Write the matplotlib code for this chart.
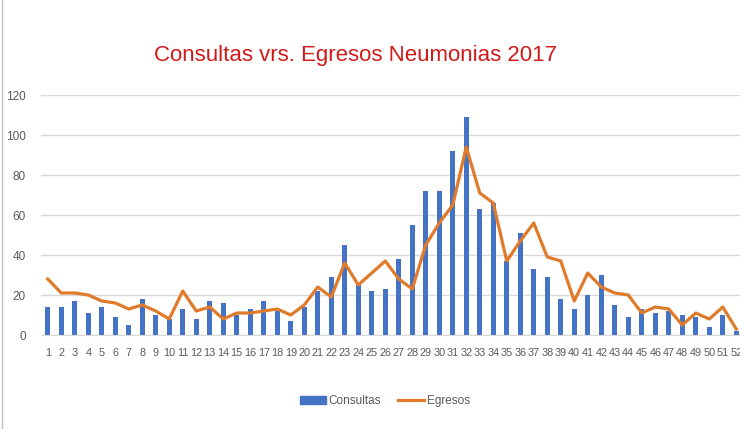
import matplotlib
matplotlib.use("Agg")
from matplotlib import pyplot as plt
from matplotlib.lines import Line2D

# semanas epidemiologicas 1..52
semanas = list(range(1, 53))
consultas = [14, 14, 17, 11, 14, 9, 5, 18, 10, 8,
             13, 8, 17, 16, 10, 13, 17, 12, 7, 14,
             22, 29, 45, 25, 22, 23, 38, 55, 72, 72,
             92, 109, 63, 66, 37, 51, 33, 29, 18, 13,
             20, 30, 15, 9, 13, 11, 12, 10, 9, 4,
             10, 2]
egresos = [28, 21, 21, 20, 17, 16, 13, 15, 12, 8,
           22, 12, 14, 8, 11, 11, 12, 13, 10, 15,
           24, 19, 36, 25, 31, 37, 28, 23, 45, 56,
           65, 94, 71, 66, 37, 47, 56, 39, 37, 17,
           31, 24, 21, 20, 11, 14, 13, 5, 11, 8,
           14, 3]
yticks = [0, 20, 40, 60, 80, 100, 120]

azul = "#4472c4"
naranja = "#e07b2c"
gris = "#595959"
fuente = "Liberation Sans"

fig = plt.figure(figsize=(7.4, 4.29), dpi=100)
ax = fig.add_axes([41 / 740, 94 / 429, 702 / 740, 240 / 429])

ax.bar(semanas, consultas, width=0.38, color=azul, zorder=2)
ax.plot(semanas, egresos, color=naranja, linewidth=2.3, zorder=3)

ax.set_xlim(0.5, 52.5)
ax.set_ylim(0, 120)
ax.set_yticks(yticks)
ax.set_xticks(semanas)
ax.set_xticklabels([str(s) for s in semanas])
ax.grid(axis="y", color="#d9d9d9", linewidth=1, zorder=0)
for s in ["top", "right", "left"]:
    ax.spines[s].set_visible(False)
ax.spines["bottom"].set_color("#d9d9d9")
ax.tick_params(axis="both", length=0, colors=gris)
ax.tick_params(axis="x", pad=9)
ax.tick_params(axis="y", pad=11)
for lbl in ax.get_xticklabels():
    lbl.set_fontfamily(fuente)
    lbl.set_fontsize(7.8)
for lbl in ax.get_yticklabels():
    lbl.set_fontfamily(fuente)
    lbl.set_fontsize(8.5)

fig.text(0.48, 0.87, "Consultas vrs. Egresos Neumonias 2017", color="#d11a1a",
         fontsize=16, ha="center", va="center", fontfamily=fuente)

handles = [plt.Rectangle((0, 0), 1, 1, color=azul),
           Line2D([0], [0], color=naranja, linewidth=2.3)]
leg = fig.legend(handles, ["Consultas", "Egresos"], loc="center",
                 bbox_to_anchor=(0.52, 0.065), ncol=2, frameon=False,
                 handlelength=2.2, handletextpad=0.2, columnspacing=1.5,
                 prop={"family": fuente, "size": 8.5})
for t in leg.get_texts():
    t.set_color(gris)

# borde izquierdo del marco del grafico
fig.add_artist(Line2D([0.003, 0.003], [0, 1], color="#bfbfbf", linewidth=1))

fig.savefig("out.png", dpi=100)
